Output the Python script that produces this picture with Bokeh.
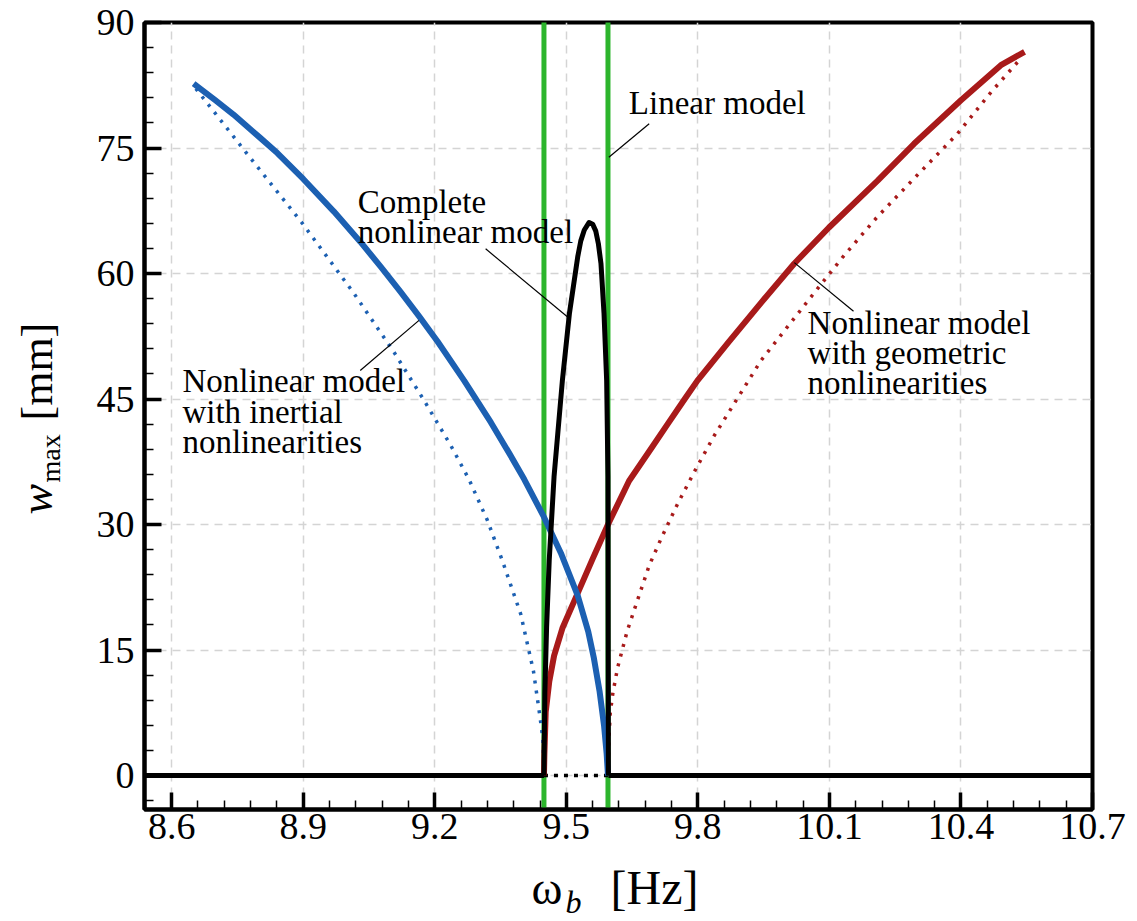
import math
from bokeh.plotting import figure
from bokeh.layouts import row, column
from bokeh.models import FixedTicker, ColumnDataSource, Range1d
from bokeh.core.properties import value
from bokeh.embed import file_html
from bokeh.resources import INLINE

# ---------------- data ----------------
x_ticks = [8.6, 8.9, 9.2, 9.5, 9.8, 10.1, 10.4, 10.7]
y_ticks = [0, 15, 30, 45, 60, 75, 90]

# linear model resonances [Hz]
lin_freq = [9.449, 9.595]

# complete nonlinear model
comp_x = [9.449, 9.451, 9.455, 9.461, 9.472, 9.491, 9.507, 9.526, 9.533, 9.541, 9.552,
          9.560, 9.567, 9.573, 9.579, 9.586, 9.592, 9.595, 9.596]
comp_y = [0.0, 9.8, 17.7, 25.7, 35.7, 47.2, 55.2, 62.0, 63.9, 65.2, 66.1,
          65.9, 65.1, 63.6, 61.2, 55.2, 47.2, 35.7, 0.0]

# trivial (zero) branch: stable parts and unstable part
zero_stable_left_x = [8.538, 9.449]
zero_stable_right_x = [9.596, 10.7]
zero_unstable_x = [9.449, 9.596]

# nonlinear model with inertial nonlinearities
inert_x = [8.650, 8.700, 8.741, 8.800, 8.841, 8.900, 8.970, 9.030, 9.077, 9.122,
           9.164, 9.206, 9.267, 9.328, 9.370, 9.404, 9.447, 9.4875, 9.526, 9.550,
           9.563, 9.576, 9.586, 9.592, 9.595]
inert_y = [82.7, 80.7, 79.0, 76.3, 74.4, 71.3, 67.4, 63.8, 60.8, 57.8,
           54.9, 51.9, 47.2, 42.2, 38.5, 35.4, 31.1, 26.6, 21.5, 17.2,
           14.0, 10.0, 6.0, 2.6, 0.0]
inert_dot_x = [8.655, 8.769, 8.898, 9.016, 9.107, 9.176, 9.237, 9.278, 9.320, 9.354,
               9.396, 9.425, 9.440, 9.446, 9.449]
inert_dot_y = [82.1, 74.5, 66.0, 57.6, 50.6, 44.8, 39.4, 35.4, 30.5, 25.7,
               19.3, 12.5, 7.0, 4.6, 0.0]

# nonlinear model with geometric nonlinearities
geom_x = [9.449, 9.450, 9.453, 9.461, 9.472, 9.491, 9.526, 9.560, 9.595,
          9.643, 9.695, 9.731, 9.770, 9.799, 9.870, 9.944, 10.020, 10.099, 10.210,
          10.293, 10.400, 10.491, 10.545]
geom_y = [0.0, 2.6, 7.6, 11.2, 14.3, 17.6, 21.8, 25.9, 30.0,
          35.2, 39.2, 42.0, 45.0, 47.2, 51.8, 56.5, 61.2, 65.5, 71.1,
          75.5, 80.7, 84.9, 86.5]
geom_dot_x = [9.595, 9.597, 9.600, 9.606, 9.617, 9.639, 9.662, 9.689, 9.716, 9.754,
              9.796, 9.837, 9.887, 9.944, 10.061, 10.131, 10.208, 10.303, 10.392,
              10.469, 10.533]
geom_dot_y = [0.0, 4.0, 7.4, 9.8, 12.9, 17.3, 20.9, 25.1, 28.3, 32.5,
              36.7, 40.6, 44.8, 49.6, 57.4, 62.0, 66.7, 71.9, 76.7,
              81.7, 85.5]

# annotation texts
annot_text = ["Linear model", "Complete", "nonlinear model",
              "Nonlinear model", "with inertial", "nonlinearities",
              "Nonlinear model", "with geometric", "nonlinearities"]
xlabel_parts = ["ω", "b", "[Hz]"]
ylabel_parts = ["w", "max", "[mm]"]

# ---------------- layout / styles ----------------
annot_x = [9.6426, 9.0243, 9.0243, 8.6244, 8.6244, 8.6244, 10.0503, 10.0503, 10.0503]
annot_y = [80.37, 68.54, 64.96, 47.18, 43.48, 39.89, 54.11, 50.46, 46.94]
leader_x0 = [9.689, 9.316, 9.030, 10.155]
leader_y0 = [77.9, 62.95, 48.4, 55.5]
leader_x1 = [9.597, 9.503, 9.164, 10.020]
leader_y1 = [73.9, 54.8, 54.4, 61.3]

BLUE = "#1c60b2"
RED = "#a81a1a"
GREEN = "#2cb52c"
BLACK = "#000000"
FONT = "Liberation Serif"

W, H = 1137, 921
LW = 70          # width of the y-label strip
BH = 64          # height of the x-label strip
PW, PH = W - LW, H - BH
FRAME_L, FRAME_R = 144, 1092
FRAME_B = 809

p = figure(width=PW, height=PH, output_backend="svg", toolbar_location=None,
           x_range=Range1d(8.538, 10.7), y_range=Range1d(-4.06, 90),
           min_border_left=FRAME_L - LW, min_border_right=W - FRAME_R, min_border_top=22,
           min_border_bottom=PH - FRAME_B, margin=0)
p.title = None
p.background_fill_color = "white"
p.border_fill_color = "white"
p.outline_line_color = "black"
p.outline_line_width = 4

# axes
p.xaxis.ticker = FixedTicker(ticks=x_ticks,
                             minor_ticks=[round(8.54 + 0.06 * i, 3) for i in range(0, 37)])
p.yaxis.ticker = FixedTicker(ticks=y_ticks, minor_ticks=[-3 + 3 * i for i in range(0, 32)])
p.xaxis.major_label_overrides = {t: ("%g" % t) for t in x_ticks}
for ax in (p.xaxis[0], p.yaxis[0]):
    ax.axis_line_width = 4
    ax.axis_line_color = "black"
    ax.major_tick_in = 17
    ax.major_tick_out = 0
    ax.minor_tick_in = 9
    ax.minor_tick_out = 0
    ax.major_tick_line_width = 3.5
    ax.minor_tick_line_width = 1.5
    ax.major_tick_line_color = "black"
    ax.minor_tick_line_color = "black"
    ax.major_label_text_font = FONT
    ax.major_label_text_font_size = "38px"
    ax.major_label_text_color = "black"
    ax.axis_label = None
p.yaxis.major_label_standoff = 10
p.xaxis.major_label_standoff = 4

# grid
for g in (p.xgrid[0], p.ygrid[0]):
    g.grid_line_color = "#d4d4d4"
    g.grid_line_dash = "8 6"
    g.grid_line_width = 1.5

# linear model
for f in lin_freq:
    p.line([f, f], [-10, 100], line_color=GREEN, line_width=5)

# dotted (unstable) branches
p.line(inert_dot_x, inert_dot_y, line_color=BLUE, line_width=3.5, line_dash="3 7")
p.line(geom_dot_x, geom_dot_y, line_color=RED, line_width=3.5, line_dash="3 7")
p.line(zero_unstable_x, [0, 0], line_color=BLACK, line_width=3.5, line_dash="4 6")

# solid branches
p.line(geom_x, geom_y, line_color=RED, line_width=6, line_join="round")
p.line(inert_x, inert_y, line_color=BLUE, line_width=6, line_join="round")
p.line(comp_x, comp_y, line_color=BLACK, line_width=5, line_join="round")
p.line(zero_stable_left_x, [0, 0], line_color=BLACK, line_width=5)
p.line(zero_stable_right_x, [0, 0], line_color=BLACK, line_width=5)

# leaders
p.segment(leader_x0, leader_y0, leader_x1, leader_y1, line_color="black", line_width=1.2)

# annotation texts
src = ColumnDataSource(dict(x=annot_x, y=annot_y, t=annot_text))
p.text(x="x", y="y", text="t", source=src, text_font=value(FONT),
       text_font_size="33px", text_color="black", text_baseline="alphabetic",
       text_align="left")


def strip(width, height, x0, x1, y0, y1):
    f = figure(width=width, height=height, output_backend="svg", toolbar_location=None,
               x_range=Range1d(x0, x1), y_range=Range1d(y0, y1),
               x_axis_type=None, y_axis_type=None, margin=0,
               min_border=0, min_border_left=0, min_border_right=0, min_border_top=0,
               min_border_bottom=0)
    f.title = None
    f.outline_line_color = None
    f.grid.visible = False
    f.background_fill_color = "white"
    f.border_fill_color = "white"
    return f


# y-label strip (x = page pixels, y = pixels upward from page bottom)
fy = strip(LW, H, 0, LW, 0, H)
ysrc = ColumnDataSource(dict(x=[36, 50, 37], y=[H - 514, H - 482, H - 420],
                             t=ylabel_parts, s=["46px", "28px", "44px"],
                             st=["italic", "normal", "normal"]))
fy.text(x="x", y="y", text="t", source=ysrc, text_font=value(FONT),
        text_font_size="s", text_font_style="st", text_color="black",
        angle=math.pi / 2, text_align="left", text_baseline="alphabetic")

# x-label strip (its frame is aligned with the main frame)
fx = strip(PW, BH, FRAME_L, FRAME_R, 0, BH)
xsrc = ColumnDataSource(dict(x=[531, 565, 610], y=[H - 887, H - 901, H - 887],
                             t=xlabel_parts, s=["47px", "32px", "48px"],
                             st=["normal", "italic", "normal"]))
fx.text(x="x", y="y", text="t", source=xsrc, text_font=value(FONT),
        text_font_size="s", text_font_style="st", text_color="black",
        text_align="left", text_baseline="alphabetic")

layout = row(fy, column(p, fx, spacing=0, margin=0), spacing=0, margin=0)
open("out.html", "w").write(file_html(layout, INLINE))
